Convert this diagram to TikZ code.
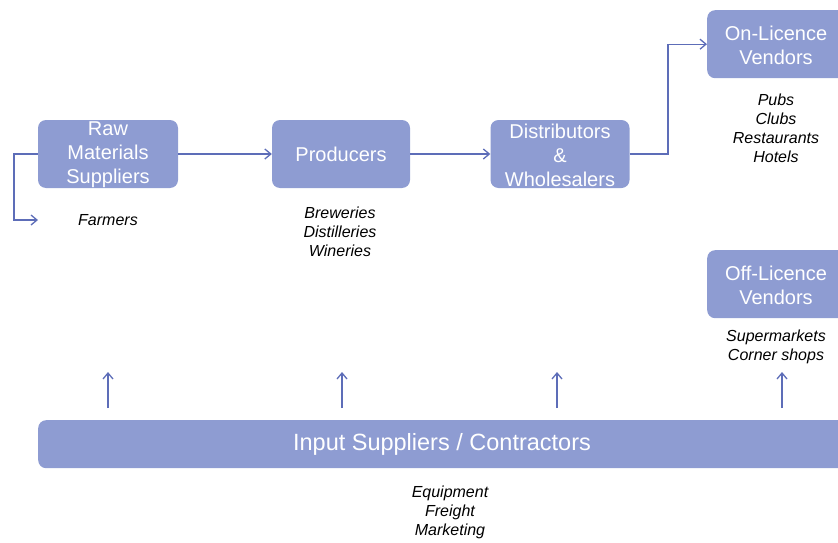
\documentclass[tikz,border=0pt]{standalone}
\usepackage{fontspec}
\setmainfont{Liberation Sans}
\usetikzlibrary{arrows.meta}
\definecolor{boxc}{HTML}{8E9CD2}
\definecolor{linec}{HTML}{5D6DB8}
\begin{document}
\begin{tikzpicture}[x=1pt,y=-1pt,
  box/.style={fill=boxc, rounded corners=8pt, inner sep=0pt},
  btxt/.style={text=white, align=center, font=\fontsize{20}{24}\selectfont, inner sep=0pt},
  lbl/.style={align=center, font=\fontsize{16}{19}\selectfont\itshape, inner sep=0pt},
  conn/.style={draw=linec, line width=1.3pt, -{Straight Barb[length=6pt,width=10pt]}}]
\useasboundingbox (0,0) rectangle (838,543);
\clip (0,0) rectangle (838,543);
% boxes
\node[box, minimum width=140, minimum height=68] (raw) at (108,154) {};
\node[btxt] (rawt) at (108,155) {Raw\\Materials\\Suppliers};
\node[box, minimum width=138, minimum height=68] (prod) at (341,154) {};
\node[btxt] (prodt) at (341,154) {Producers};
\node[box, minimum width=139, minimum height=68] (dist) at (560,154) {};
\node[btxt] (distt) at (560,155) {Distributors\\\&\\Wholesalers};
\node[box, anchor=north west, minimum width=150, minimum height=68] (on) at (707,10) {};
\node[btxt] (ont) at (776,45) {On-Licence\\Vendors};
\node[box, anchor=north west, minimum width=150, minimum height=68] (off) at (707,250) {};
\node[btxt] (offt) at (776,285) {Off-Licence\\Vendors};
\node[box, anchor=north west, minimum width=820, minimum height=48] (inp) at (38,420) {};
\node[btxt, font=\fontsize{23.5}{28}\selectfont] (inpt) at (442,444) {Input Suppliers / Contractors};
% labels
\node[lbl] (farm) at (108,220) {Farmers};
\node[lbl] (brew) at (340,232) {Breweries\\Distilleries\\Wineries};
\node[lbl] (pubs) at (776,128) {Pubs\\Clubs\\Restaurants\\Hotels};
\node[lbl] (super) at (776,347) {Supermarkets\\Corner shops};
\node[lbl] (equip) at (450,512) {Equipment\\Freight\\Marketing};
% connectors
\draw[conn] (raw.east) -- (prod.west);
\draw[conn] (prod.east) -- (dist.west);
\draw[conn] (dist.east) -- (668,154) |- (on.west);
\coordinate (farmin) at (38,220);
\draw[conn] (raw.west) -- (14,154) |- (farmin);
\foreach \x/\n in {108/a,342/b,557/c,782/d}{
  \coordinate (s\n) at (\x,408);
  \coordinate (e\n) at (\x,372);
  \draw[conn] (s\n) -- (e\n);
}
\end{tikzpicture}
\end{document}
